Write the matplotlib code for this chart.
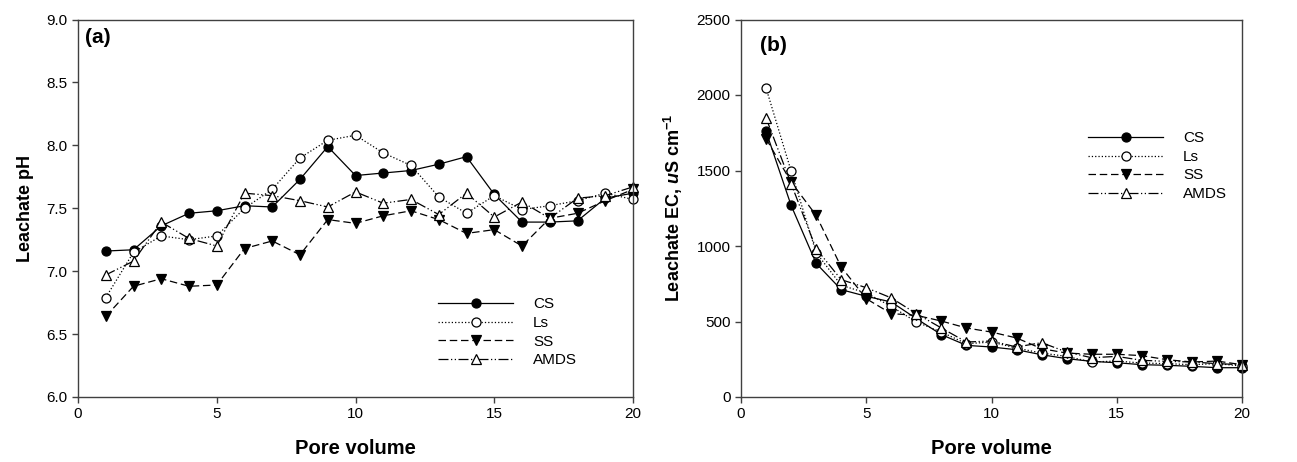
import matplotlib
matplotlib.use('Agg')
import matplotlib.pyplot as plt
import numpy as np

plt.rcParams['font.family'] = ['Liberation Sans', 'DejaVu Sans']
plt.rcParams['mathtext.fontset'] = 'custom'
plt.rcParams['mathtext.rm'] = 'Liberation Sans:bold'
plt.rcParams['mathtext.it'] = 'Liberation Sans:bold:italic'
plt.rcParams['mathtext.bf'] = 'Liberation Sans:bold'
plt.rcParams['mathtext.default'] = 'rm'

# pore volume
pv = np.arange(1, 21)

# (a) leachate pH
ph_cs = [7.16, 7.17, 7.36, 7.46, 7.48, 7.52, 7.51, 7.73, 7.99, 7.76,
         7.78, 7.80, 7.85, 7.91, 7.61, 7.39, 7.39, 7.40, 7.58, 7.62]
ph_ls = [6.79, 7.15, 7.28, 7.25, 7.28, 7.50, 7.65, 7.90, 8.04, 8.08,
         7.94, 7.84, 7.59, 7.46, 7.60, 7.49, 7.52, 7.56, 7.62, 7.57]
ph_ss = [6.64, 6.88, 6.94, 6.88, 6.89, 7.18, 7.24, 7.13, 7.41, 7.38,
         7.44, 7.48, 7.41, 7.30, 7.33, 7.20, 7.42, 7.46, 7.56, 7.65]
ph_amds = [6.97, 7.08, 7.39, 7.26, 7.20, 7.62, 7.60, 7.56, 7.51, 7.63,
           7.54, 7.57, 7.45, 7.62, 7.43, 7.55, 7.42, 7.58, 7.60, 7.67]

# (b) leachate EC, uS/cm
ec_cs = [1759, 1269, 885, 711, 667, 629, 519, 413, 342, 331,
         313, 280, 254, 236, 227, 214, 210, 203, 194, 194]
ec_ls = [2046, 1497, 956, 740, 689, 600, 497, 430, 353, 364,
         324, 291, 269, 232, 238, 225, 221, 214, 221, 205]
ec_ss = [1711, 1424, 1203, 861, 651, 552, 541, 503, 457, 430,
         391, 320, 291, 283, 283, 274, 247, 232, 238, 214]
ec_amds = [1848, 1413, 982, 777, 724, 656, 552, 457, 364, 371,
           331, 360, 298, 260, 269, 243, 236, 232, 221, 214]

names = ['CS', 'Ls', 'SS', 'AMDS']
styles = [
    dict(ls='-', marker='o', mfc='black'),
    dict(ls=':', marker='o', mfc='white'),
    dict(ls=(0, (6, 3)), marker='v', mfc='black'),
    dict(ls=(0, (8, 2, 1, 2, 1, 2)), marker='^', mfc='white'),
]

fig = plt.figure(figsize=(12.97, 4.62), dpi=100)
ax1 = fig.add_axes([78/1297, 1-397/462, (633-78)/1297, (397-19.5)/462])
ax2 = fig.add_axes([741/1297, 1-397/462, (1242-741)/1297, (397-19.5)/462])

for ax, series in [(ax1, [ph_cs, ph_ls, ph_ss, ph_amds]),
                   (ax2, [ec_cs, ec_ls, ec_ss, ec_amds])]:
    for y, name, st in zip(series, names, styles):
        ax.plot(pv, y, color='black', lw=0.9, linestyle=st['ls'],
                marker=st['marker'], mfc=st['mfc'], mec='black',
                markersize=6.5, mew=0.9, label=name, clip_on=False)
    ax.set_xlim(0, 20)
    ax.set_xticks([0, 5, 10, 15, 20])
    ax.tick_params(direction='out', length=4, width=1, labelsize=11,
                   color='#404040', top=False, right=False)
    for sp in ax.spines.values():
        sp.set_color('#404040')
        sp.set_linewidth(1.0)
    ax.set_xlabel('Pore volume', fontsize=14.5, fontweight='bold', labelpad=13)

ax1.set_ylim(6.0, 9.0)
ax1.set_yticks(np.arange(6.0, 9.01, 0.5))
ax1.yaxis.set_major_formatter(matplotlib.ticker.FormatStrFormatter('%.1f'))
ax1.set_ylabel('Leachate pH', fontsize=13, fontweight='bold', labelpad=9)
ax1.text(0.012, 0.952, '(a)', transform=ax1.transAxes, fontsize=15,
         fontweight='bold', va='center', ha='left')
ax1.legend(loc='upper left', bbox_to_anchor=(0.638, 0.28), frameon=False,
           fontsize=11, handlelength=4.9, handletextpad=1.3,
           labelspacing=0.3, borderaxespad=0)

ax2.set_ylim(0, 2500)
ax2.set_yticks(np.arange(0, 2501, 500))
ax2.set_ylabel(r'Leachate EC, $\it{u}$S cm$^{-1}$', fontsize=13,
               fontweight='bold', labelpad=8)
ax2.text(0.038, 0.93, '(b)', transform=ax2.transAxes, fontsize=15,
         fontweight='bold', va='center', ha='left')
ax2.legend(loc='upper left', bbox_to_anchor=(0.681, 0.72), frameon=False,
           fontsize=11, handlelength=4.9, handletextpad=1.3,
           labelspacing=0.3, borderaxespad=0)

fig.savefig('out.png', dpi=100)
